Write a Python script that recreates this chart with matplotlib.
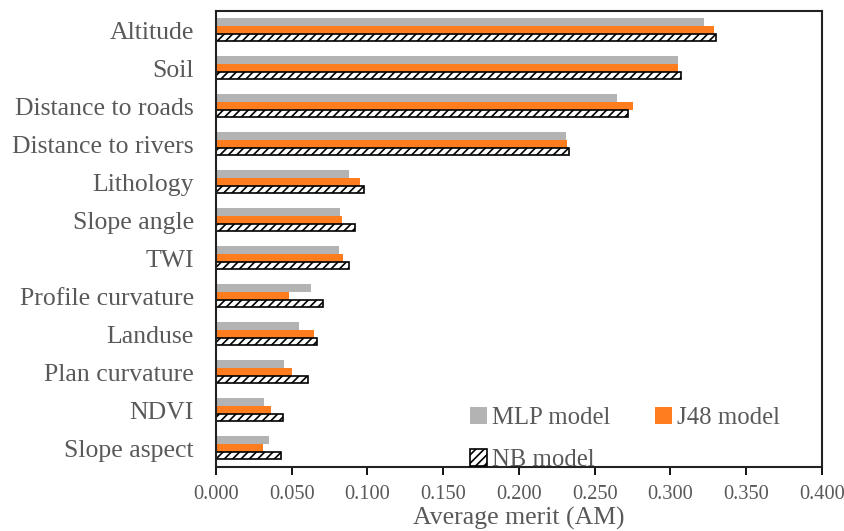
import numpy as np
import matplotlib
matplotlib.use("Agg")
import matplotlib.pyplot as plt

# Average merit of each conditioning factor for the three models
factors = ["Altitude", "Soil", "Distance to roads", "Distance to rivers",
           "Lithology", "Slope angle", "TWI", "Profile curvature",
           "Landuse", "Plan curvature", "NDVI", "Slope aspect"]
mlp = [0.322, 0.305, 0.265, 0.231, 0.088, 0.082, 0.081, 0.063, 0.055, 0.045, 0.032, 0.035]
j48 = [0.329, 0.305, 0.275, 0.232, 0.095, 0.083, 0.084, 0.048, 0.0645, 0.050, 0.036, 0.031]
nb = [0.330, 0.307, 0.272, 0.233, 0.098, 0.0915, 0.0875, 0.0705, 0.0665, 0.061, 0.044, 0.043]
xticks = [0.0, 0.05, 0.1, 0.15, 0.2, 0.25, 0.3, 0.35, 0.4]

plt.rcParams["font.family"] = ["Liberation Serif", "DejaVu Serif"]
plt.rcParams["hatch.linewidth"] = 1.2
text_color = "#595959"

fig = plt.figure(figsize=(8.45, 5.31), dpi=100)
ax = fig.add_axes([216 / 845, 1 - 467 / 531, 606 / 845, 456 / 531])

y = np.arange(len(factors))
h = 0.205
b1 = ax.barh(y - h, mlp, height=h, color="#b3b3b3", label="MLP model")
b2 = ax.barh(y, j48, height=h, color="#ff7c1f", label="J48 model")
b3 = ax.barh(y + h, nb, height=h * 0.85, color="white", edgecolor="black",
             hatch="////", linewidth=1.2, label="NB model")

ax.set_ylim(len(factors) - 0.5, -0.5)
ax.set_xlim(0, 0.4)
ax.set_yticks(y)
ax.set_yticklabels(factors, fontsize=18.5, color=text_color)
ax.set_xticks(xticks)
ax.set_xticklabels([f"{t:.3f}" for t in xticks], fontsize=14.7, color=text_color)
ax.tick_params(axis="y", length=0, pad=16)
ax.tick_params(axis="x", direction="out", length=6, width=1.3, pad=7)
ax.set_xlabel("Average merit (AM)", fontsize=18.5, color=text_color, labelpad=2)

for side in ax.spines.values():
    side.set_linewidth(1.5)
    side.set_color("#222222")

# legend fills column-wise, so NB goes second to land on the lower row
ax.legend([b1, b3, b2], ["MLP model", "NB model", "J48 model"],
          loc="upper left", bbox_to_anchor=(0.39, 0.17), ncol=2, frameon=False,
          fontsize=17.8, labelcolor=text_color, handlelength=0.7, handleheight=0.7,
          handletextpad=0.2, columnspacing=1.8, labelspacing=0.8, borderpad=0.2)

fig.savefig("out.png", dpi=100)
